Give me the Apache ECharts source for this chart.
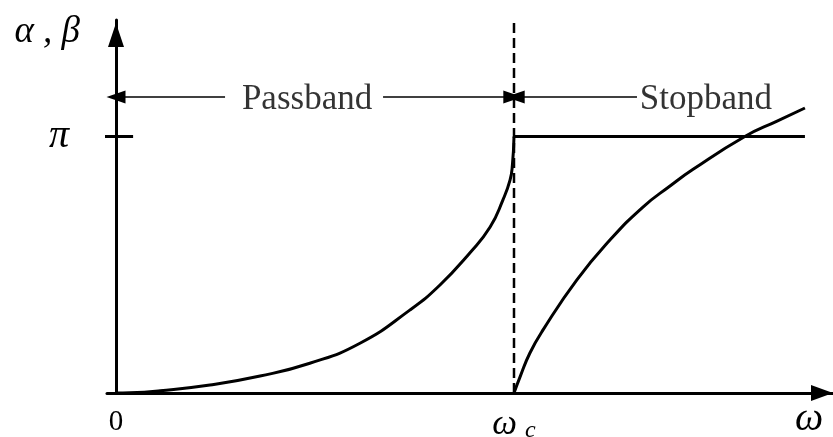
<!DOCTYPE html>
<html>
<head>
<meta charset="utf-8">
<script src="https://cdn.jsdelivr.net/npm/echarts@6/dist/echarts.min.js"></script>
<style>
  html, body { margin: 0; padding: 0; background: #fff; }
  #chart { width: 833px; height: 437px; }
</style>
</head>
<body>
<div id="chart"></div>
<script>
// Normalised frequency (omega / omega_c) and phase in units of pi
const passbandX = [0, 0.035, 0.111, 0.236, 0.362, 0.487, 0.613, 0.739, 0.814, 0.889, 0.940, 0.972, 0.990, 0.996, 1.0];
const passbandY = [0, 0.001, 0.009, 0.031, 0.066, 0.116, 0.194, 0.324, 0.421, 0.546, 0.647, 0.752, 0.830, 0.889, 1.0];

const stopbandX = [1.0, 1.015, 1.040, 1.073, 1.158, 1.241, 1.324, 1.392, 1.450, 1.580, 1.661, 1.731];
const stopbandY = [0, 0.062, 0.156, 0.246, 0.441, 0.596, 0.725, 0.807, 0.872, 1.0, 1.060, 1.111];

// Constant phase level in the stopband
const flatX = [1.0, 1.731];
const flatY = [1.0, 1.0];

// Cut-off frequency marker
const cutoffX = [1.0, 1.0];
const cutoffY = [0, 1.454];

// Axis label values and texts
const xTickValues = [0, 1];
const xTickLabels = ['{n|0}', '{w|ω}{c|c}'];
const yTickValues = [1];
const yTickLabels = ['π'];

// Band annotation
const bandLabels = ['Passband', 'Stopband'];
const bandLabelX = [0.480, 1.482];
const bandY = 1.154;
const passLeft = [0.0, 0.274];
const passRight = [0.671, 0.997];
const stopLeft = [1.003, 1.309];

const pairs = (xs, ys) => xs.map((x, i) => [x, ys[i]]);
const serif = "'Liberation Serif', 'Times New Roman', serif";

const chart = echarts.init(document.getElementById('chart'), null, { renderer: 'canvas' });

const arrowLine = (a, b, startArrow) => [
  { coord: [a, bandY], symbol: startArrow ? 'triangle' : 'none' },
  { coord: [b, bandY], symbol: startArrow ? 'none' : 'triangle' }
];

chart.setOption({
  animation: false,
  backgroundColor: '#fff',
  grid: { left: 107, right: 0, top: 20, bottom: 44, containLabel: false, outerBoundsMode: 'none' },
  xAxis: {
    type: 'value',
    min: -0.0226,
    max: 1.8015,
    splitLine: { show: false },
    axisLine: {
      show: true, onZero: true,
      lineStyle: { color: '#000', width: 3 },
      symbol: ['none', 'triangle'],
      symbolSize: [16, 22],
      symbolOffset: [0, -11]
    },
    axisTick: { show: false },
    axisLabel: {
      customValues: xTickValues,
      formatter: v => xTickLabels[xTickValues.indexOf(v)],
      margin: 13,
      color: '#000',
      verticalAlign: 'top',
      rich: {
        n: { fontFamily: serif, fontSize: 29, color: '#000', padding: [2, 0, 0, 0] },
        w: { fontFamily: serif, fontStyle: 'italic', fontSize: 35, color: '#000' },
        c: { fontFamily: serif, fontStyle: 'italic', fontSize: 24, color: '#000', padding: [13, 0, 0, 8] }
      }
    },
    name: 'ω',
    nameLocation: 'end',
    nameGap: -38,
    nameTextStyle: {
      fontFamily: serif, fontStyle: 'italic', fontSize: 40, color: '#000',
      verticalAlign: 'top', padding: [6, 0, 0, 0]
    }
  },
  yAxis: {
    type: 'value',
    min: 0,
    max: 1.454,
    splitLine: { show: false },
    axisLine: {
      show: true, onZero: true,
      lineStyle: { color: '#000', width: 3 },
      symbol: ['none', 'triangle'],
      symbolSize: [16, 24],
      symbolOffset: [0, -15]
    },
    axisTick: { show: false },
    axisLabel: {
      customValues: yTickValues,
      formatter: v => yTickLabels[yTickValues.indexOf(v)],
      margin: 38,
      color: '#000',
      fontFamily: serif,
      fontStyle: 'italic',
      fontSize: 40,
      padding: [8, 0, 0, 0]
    },
    name: 'α , β',
    nameLocation: 'end',
    nameGap: -12,
    nameTextStyle: {
      fontFamily: serif, fontStyle: 'italic', fontSize: 37, color: '#000',
      align: 'right', verticalAlign: 'middle', padding: [0, 36, 0, 0]
    }
  },
  series: [
    {
      name: 'passband',
      type: 'line',
      data: pairs(passbandX, passbandY),
      smooth: 0.5,
      symbol: 'none',
      lineStyle: { color: '#000', width: 3 },
      z: 5
    },
    {
      name: 'stopband',
      type: 'line',
      data: pairs(stopbandX, stopbandY),
      smooth: 0.5,
      symbol: 'none',
      lineStyle: { color: '#000', width: 3 },
      z: 5
    },
    {
      name: 'flat',
      type: 'line',
      data: pairs(flatX, flatY),
      symbol: 'none',
      lineStyle: { color: '#000', width: 3 },
      z: 5
    },
    {
      name: 'cutoff',
      type: 'line',
      data: pairs(cutoffX, cutoffY),
      symbol: 'none',
      clip: false,
      lineStyle: { color: '#000', width: 2.5, type: [10, 5] },
      z: 4
    },
    {
      name: 'piTick',
      type: 'line',
      data: [[-0.040, 1], [0.043, 1]],
      symbol: 'none',
      clip: false,
      lineStyle: { color: '#000', width: 3 },
      z: 5
    },
    {
      name: 'bands',
      type: 'scatter',
      symbolSize: 0,
      data: bandLabelX.map((x, i) => ({ value: [x, bandY], name: bandLabels[i] })),
      label: {
        show: true,
        position: 'inside',
        formatter: p => p.name,
        color: '#000',
        textBorderWidth: 0,
        fontFamily: serif,
        fontSize: 35,
        offset: [0, 3]
      },
      markLine: {
        silent: true,
        symbolSize: [13, 19],
        symbolOffset: [0, 0],
        label: { show: false },
        lineStyle: { color: '#000', width: 1.5, type: 'solid' },
        emphasis: { disabled: true },
        data: [
          arrowLine(passLeft[0], passLeft[1], true),
          arrowLine(passRight[0], passRight[1], false),
          arrowLine(stopLeft[0], stopLeft[1], true)
        ]
      }
    }
  ]
});
</script>
</body>
</html>
